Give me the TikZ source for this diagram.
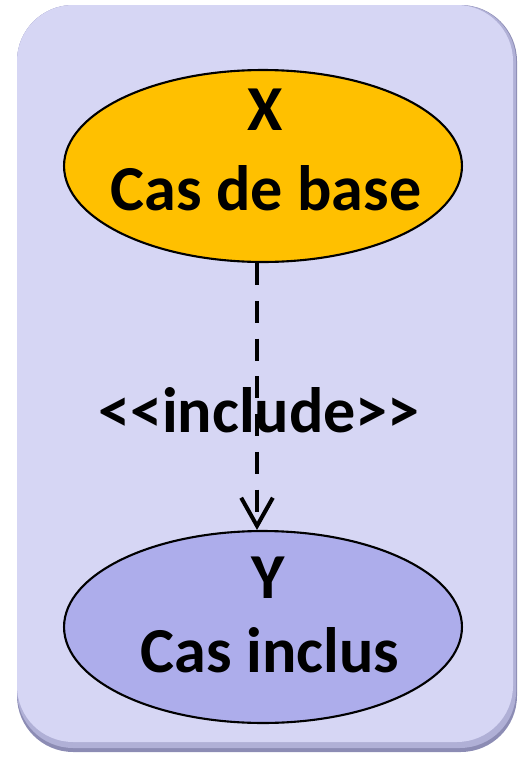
\documentclass[tikz,border=0pt]{standalone}
\usepackage{fontspec}
\setmainfont{Carlito}
\usetikzlibrary{arrows.meta}
\usetikzlibrary{shapes}

\definecolor{boxfill}{RGB}{214,214,244}
\definecolor{boxedge}{RGB}{176,176,214}
\definecolor{boxshade}{RGB}{140,140,180}
\definecolor{basefill}{RGB}{255,192,0}
\definecolor{inclfill}{RGB}{173,173,235}

\begin{document}
\begin{tikzpicture}[x=0.02cm, y=-0.02cm,
        case_style/.style={ellipse, draw=black, line width=1.2pt, minimum width=7.96cm, minimum height=3.84cm},
        text_style/.style={font=\fontsize{36.5}{40}\selectfont\bfseries, inner sep=0pt},
        include_style/.style={draw=black, line width=2.3pt, dash pattern=on 12.5pt off 9pt, -{Straight Barb[length=16pt, width=18pt]}}]

        \useasboundingbox (0,0) rectangle (519,761);

        % frame with a soft bottom edge
        \fill [boxshade, rounded corners=32pt] (17,5) rectangle (517,752);
        \fill [boxedge, rounded corners=32pt] (17,5) rectangle (516,748);
        \fill [boxfill, rounded corners=32pt] (17,5) rectangle (513,742);

        \node [case_style, fill=basefill](base) at (263,166) {};

        \node [case_style, fill=inclfill](incl) at (263,627) {};

        \node [text_style](baseX) at (265,110) {X};

        \node [text_style](baseName) at (266,188) {Cas de base};

        \node [text_style](inclY) at (268,578) {Y};

        \node [text_style](inclName) at (270,650) {Cas inclus};

        \node [text_style](rel) at (259,410) {<{}<include>{}>};

        \draw [include_style, shorten >=0pt] (base.south -| 257,0) -- (incl.north -| 257,0);

        \end{tikzpicture}
\end{document}
